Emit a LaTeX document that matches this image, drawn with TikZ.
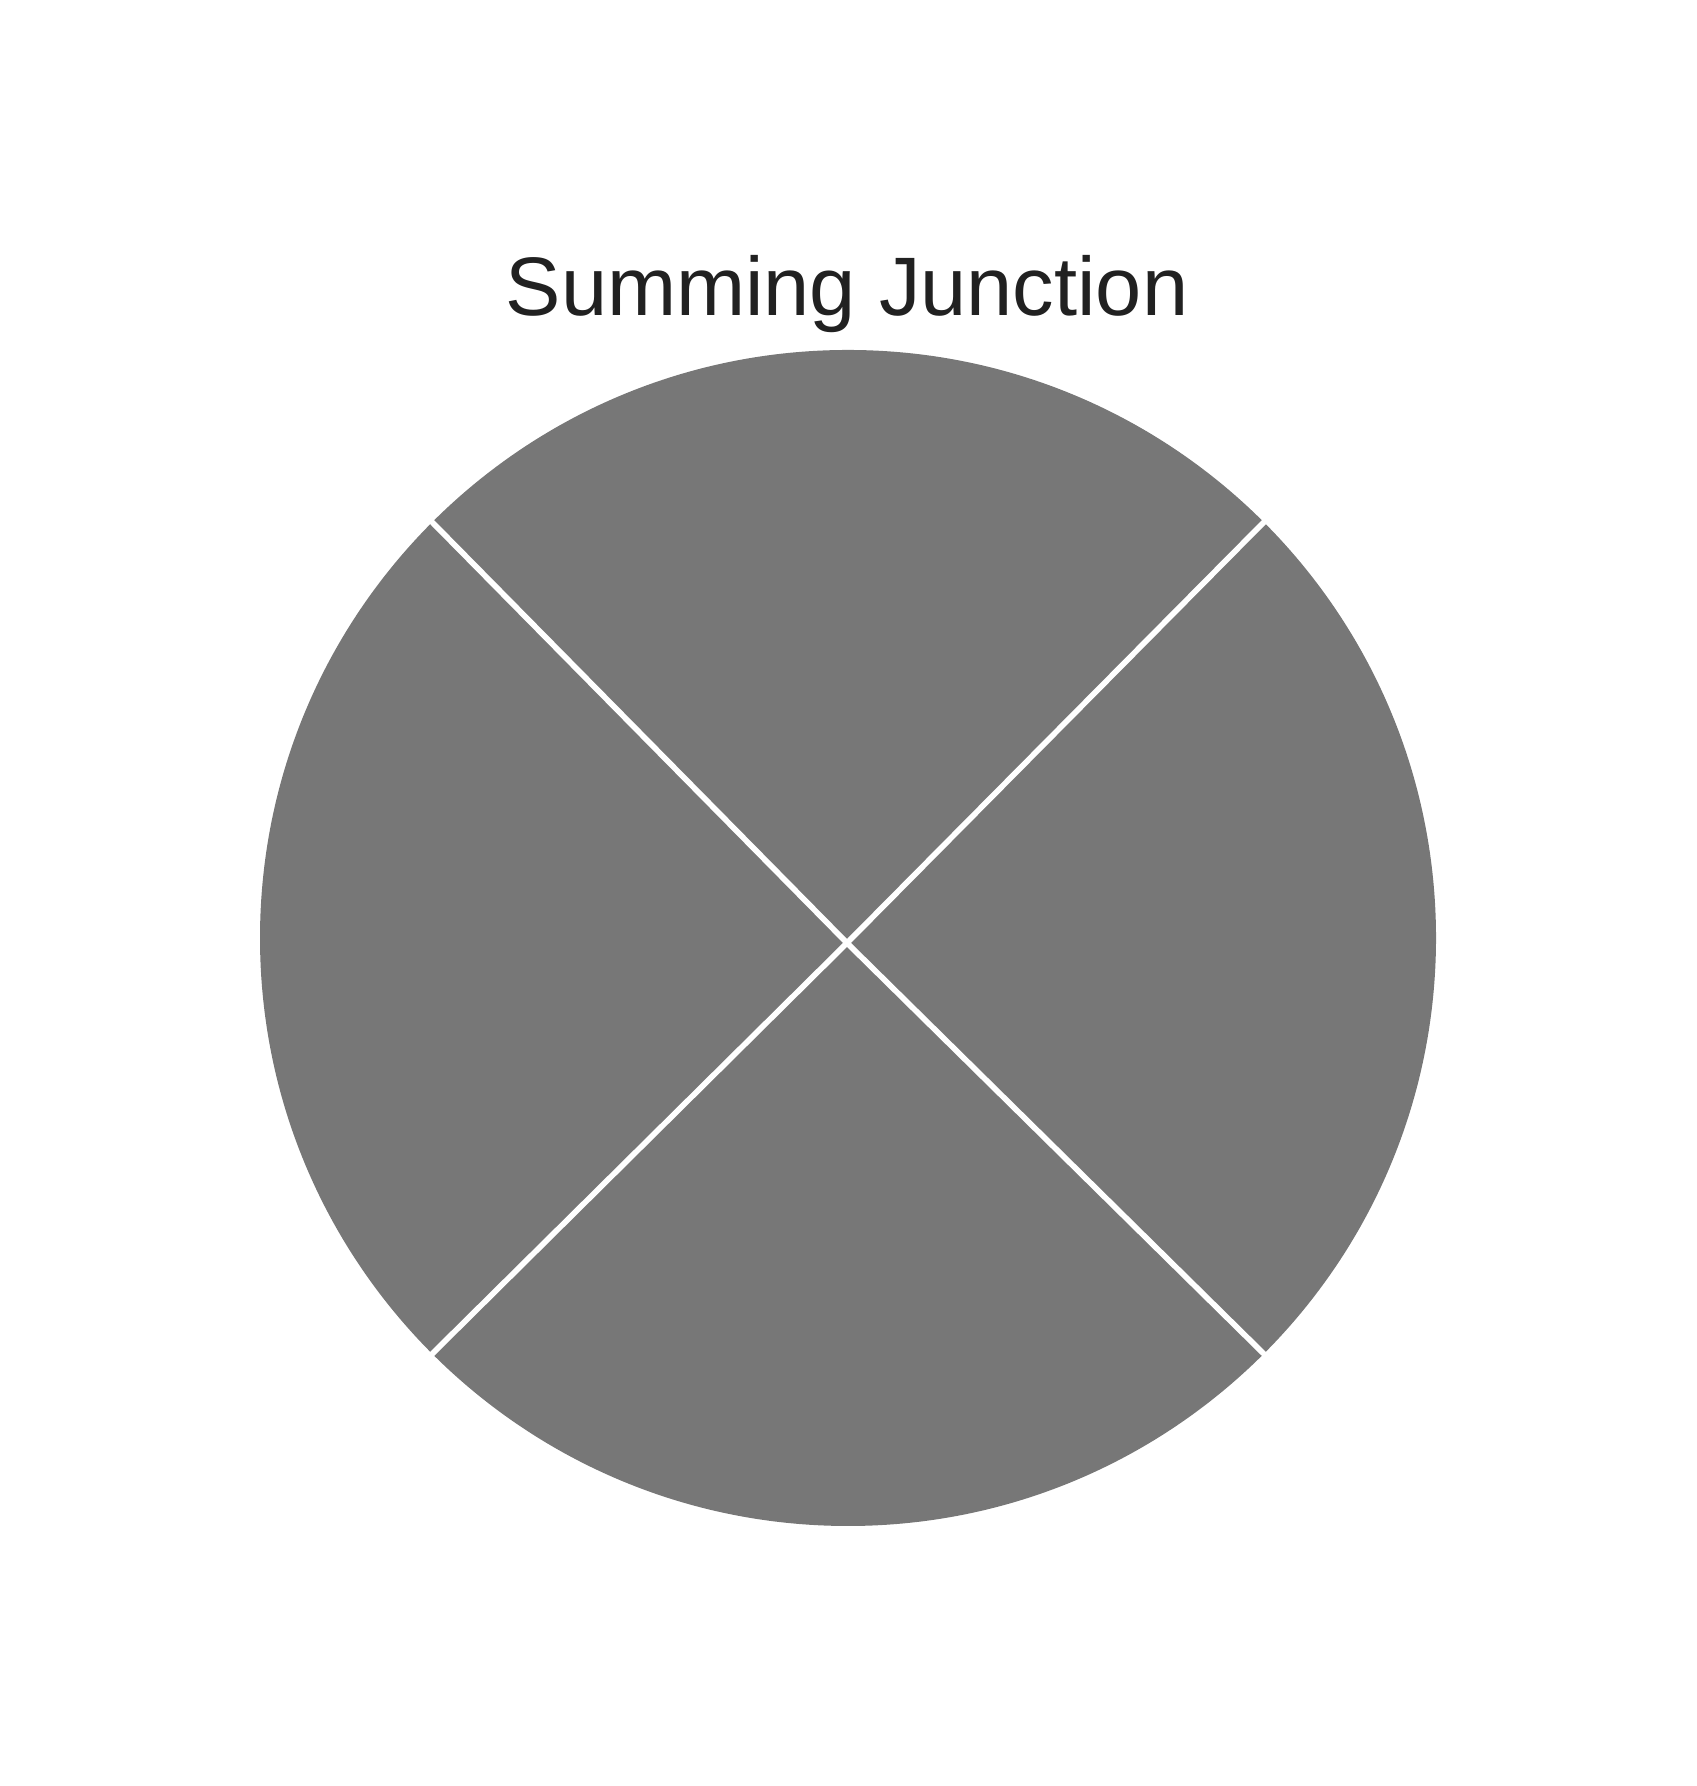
\documentclass[tikz,border=0pt]{standalone}
\usepackage{fontspec}
\setmainfont{Liberation Sans}
\usepackage{xcolor}
\usetikzlibrary{calc}
\definecolor{sectorgray}{HTML}{777777}
\definecolor{titleblack}{HTML}{212121}

\begin{document}
\begin{tikzpicture}[x=0.01cm,y=0.01cm]
  \useasboundingbox (0,0) rectangle (1696,1786);
  % Kreisscheibe
  \coordinate (center) at (848,848);
  \coordinate (hub) at (847,843);
  \fill[sectorgray] (center) circle (588);
  % Trennlinien zwischen den Sektoren
  \foreach \a in {45,135,225,315} {
    \draw[white,line width=1.6pt] (hub) -- ($(center)+(\a:592)$);
  }
  % Titel
  \node[anchor=base,text=titleblack,font=\fontsize{23.6}{28}\selectfont] (title) at (847,1470) {Summing Junction};
\end{tikzpicture}
\end{document}
